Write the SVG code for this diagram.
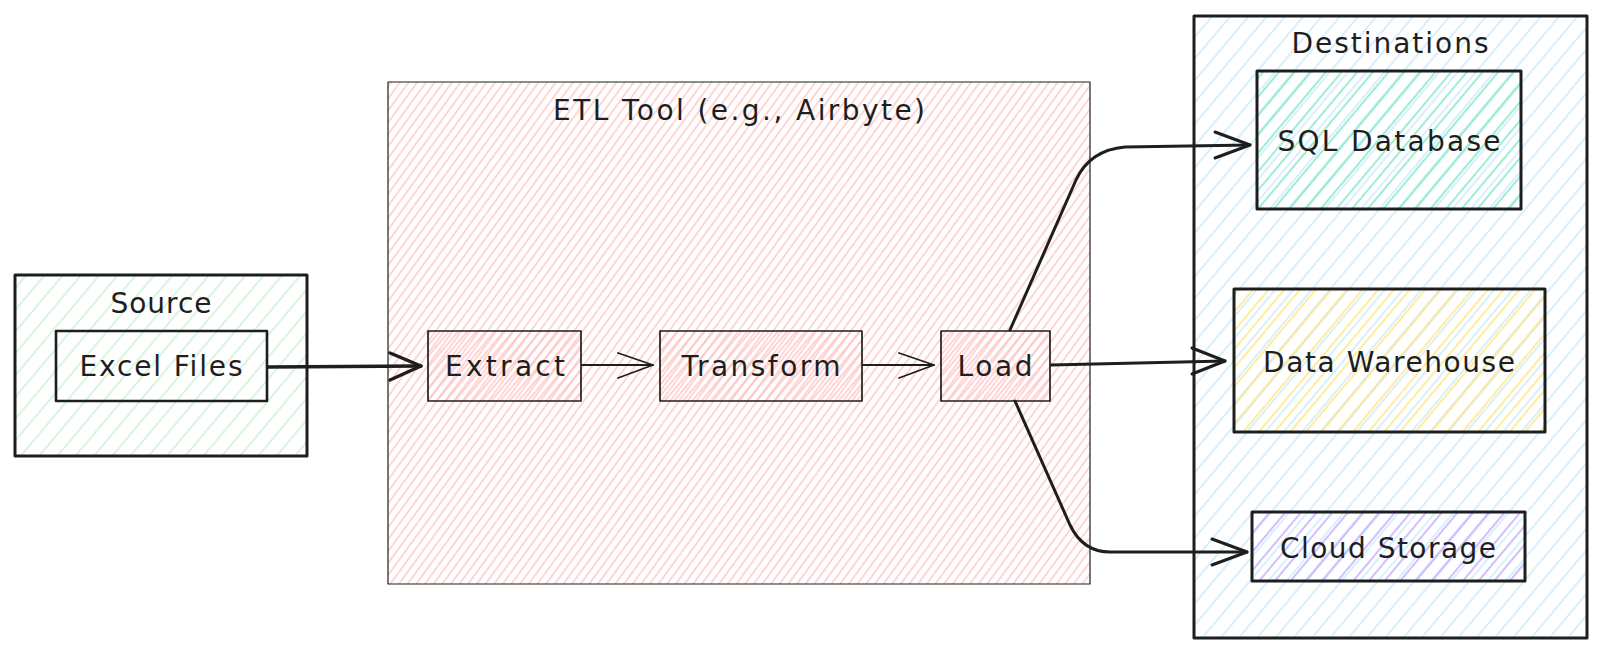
<svg xmlns="http://www.w3.org/2000/svg" width="1600" height="653" viewBox="0 0 1600 653">
  <style>
    .lbl { font-family: "DejaVu Sans", "Liberation Sans", sans-serif; font-size: 28px; fill: #1e1e1e; text-anchor: middle; dominant-baseline: central; }
    .thick { fill: none; stroke: #1e1e1e; stroke-width: 3; stroke-linejoin: round; }
    .mid { fill: none; stroke: #1e1e1e; stroke-width: 1.7; stroke-linejoin: round; }
    .thin { fill: none; stroke: #1e1e1e; stroke-width: 1.2; stroke-linejoin: round; }
    .conn { fill: none; stroke: #1e1e1e; stroke-width: 3; stroke-linecap: round; stroke-linejoin: round; }
    .connThin { fill: none; stroke: #1e1e1e; stroke-width: 1.8; stroke-linecap: round; stroke-linejoin: round; }
  </style>
  <defs>
    <pattern id="hGreen" width="14" height="10" patternUnits="userSpaceOnUse" patternTransform="rotate(40)">
      <line x1="1" y1="0" x2="1" y2="10" stroke="#c4f0cb" stroke-width="1.3"/>
    </pattern>
    <pattern id="hRed" width="7" height="10" patternUnits="userSpaceOnUse" patternTransform="rotate(36)">
      <line x1="1" y1="0" x2="1" y2="10" stroke="#ffc9c9" stroke-width="1.5"/>
    </pattern>
    <pattern id="hRed2" width="7" height="10" patternUnits="userSpaceOnUse" patternTransform="rotate(40)">
      <line x1="4" y1="0" x2="4" y2="10" stroke="#ffc0c0" stroke-width="1.4"/>
    </pattern>
    <pattern id="hBlue" width="14" height="10" patternUnits="userSpaceOnUse" patternTransform="rotate(40)">
      <line x1="1" y1="0" x2="1" y2="10" stroke="#c5e6fb" stroke-width="1.3"/>
    </pattern>
    <pattern id="hTeal" width="12" height="10" patternUnits="userSpaceOnUse" patternTransform="rotate(40)">
      <line x1="6" y1="0" x2="6" y2="10" stroke="#7de8c4" stroke-width="1.5"/>
    </pattern>
    <pattern id="hYellow" width="12" height="10" patternUnits="userSpaceOnUse" patternTransform="rotate(40)">
      <line x1="6" y1="0" x2="6" y2="10" stroke="#ffe680" stroke-width="1.5"/>
    </pattern>
    <pattern id="hViolet" width="12" height="10" patternUnits="userSpaceOnUse" patternTransform="rotate(40)">
      <line x1="6" y1="0" x2="6" y2="10" stroke="#c4b0ff" stroke-width="1.6"/>
    </pattern>
  </defs>

  <rect width="1600" height="653" fill="#ffffff"/>

  <g id="source">
    <rect x="15" y="275" width="292" height="181" fill="url(#hGreen)"/>
    <rect x="15" y="275" width="292" height="181" class="thick"/>
    <text x="161" y="303" class="lbl" textLength="101" lengthAdjust="spacing">Source</text>
  </g>

  <g id="excel-files">
    <rect x="56" y="331" width="211" height="70" class="thick" style="stroke-width:2.6"/>
    <text x="161" y="366" class="lbl" textLength="163" lengthAdjust="spacing">Excel Files</text>
  </g>

  <g id="etl-tool">
    <rect x="388" y="82" width="702" height="502" fill="url(#hRed)"/>
    <rect x="388" y="82" width="702" height="502" class="thin"/>
    <text x="739" y="110" class="lbl" textLength="372" lengthAdjust="spacing">ETL Tool (e.g., Airbyte)</text>
  </g>

  <g id="extract">
    <rect x="428" y="331" width="153" height="70" fill="url(#hRed2)"/>
    <rect x="428" y="331" width="153" height="70" class="mid"/>
    <text x="505" y="366" class="lbl" textLength="120" lengthAdjust="spacing">Extract</text>
  </g>

  <g id="transform">
    <rect x="660" y="331" width="202" height="70" fill="url(#hRed2)"/>
    <rect x="660" y="331" width="202" height="70" class="mid"/>
    <text x="761" y="366" class="lbl" textLength="159" lengthAdjust="spacing">Transform</text>
  </g>

  <g id="load">
    <rect x="941" y="331" width="109" height="70" fill="url(#hRed2)"/>
    <rect x="941" y="331" width="109" height="70" class="mid"/>
    <text x="995" y="366" class="lbl" textLength="75" lengthAdjust="spacing">Load</text>
  </g>

  <g id="destinations">
    <rect x="1194" y="16" width="393" height="622" fill="url(#hBlue)"/>
    <rect x="1194" y="16" width="393" height="622" class="thick"/>
    <text x="1390" y="43" class="lbl" textLength="197" lengthAdjust="spacing">Destinations</text>
  </g>

  <g id="sql-database">
    <rect x="1257" y="71" width="264" height="138" fill="url(#hTeal)"/>
    <rect x="1257" y="71" width="264" height="138" class="thick"/>
    <text x="1389" y="141" class="lbl" textLength="223" lengthAdjust="spacing">SQL Database</text>
  </g>

  <g id="data-warehouse">
    <rect x="1234" y="289" width="311" height="143" fill="url(#hYellow)"/>
    <rect x="1234" y="289" width="311" height="143" class="thick"/>
    <text x="1389" y="362" class="lbl" textLength="252" lengthAdjust="spacing">Data Warehouse</text>
  </g>

  <g id="cloud-storage">
    <rect x="1252" y="512" width="273" height="69" fill="url(#hViolet)"/>
    <rect x="1252" y="512" width="273" height="69" class="thick"/>
    <text x="1388" y="548" class="lbl" textLength="216" lengthAdjust="spacing">Cloud Storage</text>
  </g>

  <g id="connectors">
    <!-- Excel Files -> Extract -->
    <path class="conn" style="stroke-width:3.5" d="M268 367 L421 366"/>
    <path class="conn" style="stroke-width:3.5" d="M390 353 L421 366 L390 380"/>
    <!-- Extract -> Transform -->
    <path class="connThin" d="M582 365 L653 365"/>
    <path class="connThin" d="M618 353 L653 365 L618 378"/>
    <!-- Transform -> Load -->
    <path class="connThin" d="M863 365 L934 365"/>
    <path class="connThin" d="M899 353 L934 365 L899 378"/>
    <!-- Load -> SQL Database -->
    <path class="conn" d="M1010 330 L1076 180 Q1090 150 1125 147 L1250 145"/>
    <path class="conn" d="M1215 132 L1250 145 L1215 158"/>
    <!-- Load -> Data Warehouse -->
    <path class="conn" d="M1051 365 L1225 361"/>
    <path class="conn" d="M1192 348 L1225 361 L1192 374"/>
    <!-- Load -> Cloud Storage -->
    <path class="conn" d="M1015 401 L1070 525 Q1083 552 1110 552 L1247 552"/>
    <path class="conn" d="M1212 539 L1247 552 L1212 565"/>
  </g>
</svg>
